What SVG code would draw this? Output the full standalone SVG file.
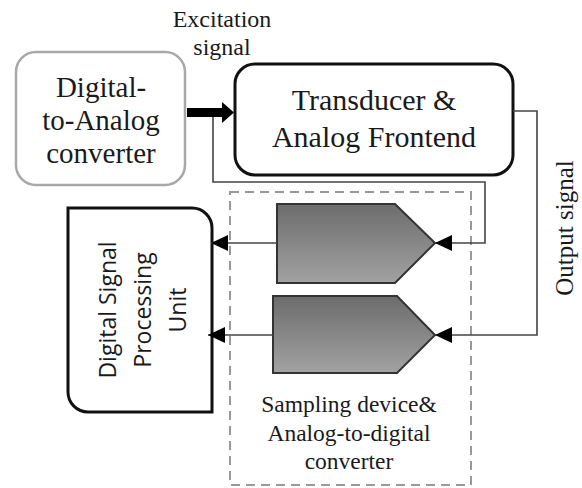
<svg xmlns="http://www.w3.org/2000/svg" width="582" height="488" viewBox="0 0 582 488">
<style>
.serif{font-family:"Liberation Serif","Times New Roman",serif;fill:#1a1a1a;text-anchor:middle}
.sans{font-family:"Open Sans","DejaVu Sans",sans-serif;fill:#1a1a1a;text-anchor:middle}
.wire{fill:none;stroke:#444;stroke-width:1.6}
.adc{fill:url(#adcGrad);stroke:#333;stroke-width:2}
</style>
<defs>
<linearGradient id="adcGrad" x1="0" y1="0" x2="0" y2="1">
<stop offset="0" stop-color="#6c6c6c"/>
<stop offset="1" stop-color="#a2a2a2"/>
</linearGradient>
<marker id="ah" markerUnits="userSpaceOnUse" markerWidth="17" markerHeight="16" refX="17" refY="8" orient="auto">
<path d="M0,0 L17,8 L0,16 Z" fill="#000"/>
</marker>
</defs>
<rect width="582" height="488" fill="#fff"/>

<g id="excitation-label">
<text class="serif" x="222" y="27" font-size="24">Excitation</text>
<text class="serif" x="222" y="55" font-size="24">signal</text>
</g>

<g id="dac">
<rect x="16" y="52" width="169" height="133" rx="20" fill="#fff" stroke="#a8a8a8" stroke-width="2.5"/>
<text class="serif" x="101" y="97" font-size="29">Digital-</text>
<text class="serif" x="101" y="130" font-size="29">to-Analog</text>
<text class="serif" x="101" y="163" font-size="29">converter</text>
</g>

<g id="transducer">
<rect x="235" y="64" width="278" height="111" rx="20" fill="#fff" stroke="#111" stroke-width="3"/>
<text class="serif" x="374" y="110" font-size="30">Transducer &amp;</text>
<text class="serif" x="374" y="147" font-size="30">Analog Frontend</text>
</g>

<g id="adc-group">
<rect x="230" y="192" width="241" height="293" fill="none" stroke="#999" stroke-width="2" stroke-dasharray="9,6"/>
<text class="serif" x="349" y="412" font-size="23.5">Sampling device&amp;</text>
<text class="serif" x="349" y="441" font-size="23.5">Analog-to-digital</text>
<text class="serif" x="349" y="469" font-size="23.5">converter</text>
</g>

<g id="adc1">
<path class="adc" d="M277,204 H395 L435,243 L395,283 H277 Z"/>
</g>

<g id="adc2">
<path class="adc" d="M273,296 H397 L435,335 L397,373 H273 Z"/>
</g>

<g id="dsp">
<path d="M68,208 H192 A20,20 0 0 1 212,228 V412 H88 A20,20 0 0 1 68,392 Z" fill="#fff" stroke="#111" stroke-width="3"/>
<g class="sans" font-size="23">
<text transform="translate(116,310) rotate(-90)">Digital Signal</text>
<text transform="translate(151,310) rotate(-90)">Processing</text>
<text transform="translate(186,310) rotate(-90)">Unit</text>
</g>
</g>

<g id="output-label">
<text class="serif" font-size="25" transform="translate(573,228) rotate(-90)">Output signal</text>
</g>

<g id="connectors">
<path d="M187,112.5 H224" stroke="#000" stroke-width="9" fill="none"/>
<path d="M222,102 L234,112.5 L222,123 Z" fill="#000"/>
<path class="wire" d="M213,117 V182 H485 V243 H435" marker-end="url(#ah)"/>
<path class="wire" d="M513,111 H537 V335 H435" marker-end="url(#ah)"/>
<path class="wire" d="M277,243 H211" marker-end="url(#ah)"/>
<path class="wire" d="M273,335 H208" marker-end="url(#ah)"/>
</g>
</svg>
